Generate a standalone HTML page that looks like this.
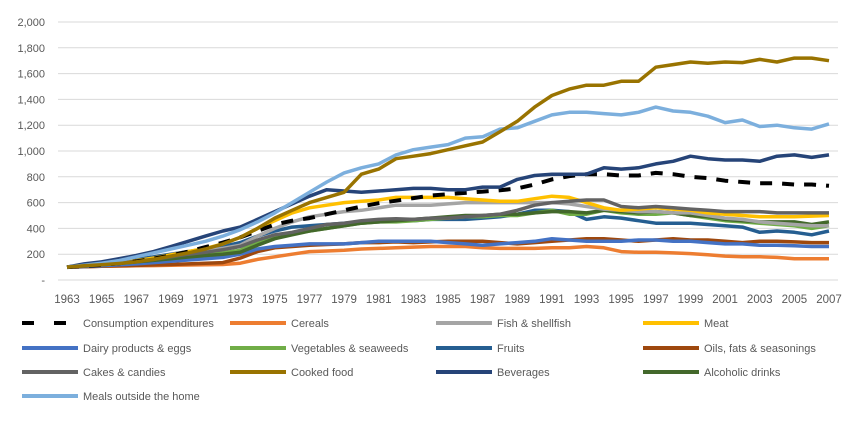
<!DOCTYPE html>
<html><head><meta charset="utf-8"><style>
body{margin:0;background:#fff;width:866px;height:421px;overflow:hidden;font-family:"Liberation Sans",sans-serif}
svg text{font-family:"Liberation Sans","Noto Sans CJK SC",sans-serif;fill:#595959}
</style></head><body>
<svg id="c" width="866" height="421"></svg>
<script>
const years=[];for(let y=1963;y<=2007;y++)years.push(y);
const yTicks=[0,200,400,600,800,1000,1200,1400,1600,1800,2000];
const consumption=[100,108,118,130,145,165,190,220,255,290,330,380,430,460,480,510,540,570,595,615,635,655,665,675,685,695,710,740,780,805,820,820,810,810,830,820,800,790,770,760,750,750,740,740,730];
const cereals=[100,103,106,108,110,112,114,116,118,120,130,160,180,200,220,225,230,240,245,250,255,260,260,260,250,245,245,245,250,250,260,250,220,215,215,210,205,195,185,180,180,175,165,165,165];
const fish=[100,110,122,135,150,168,185,205,225,245,270,340,400,450,490,510,530,540,560,580,580,580,590,600,600,600,600,600,600,590,570,550,540,530,530,520,520,500,480,470,450,440,430,420,420];
const meat=[100,110,120,135,150,170,195,220,245,280,330,400,460,520,560,580,600,610,620,640,640,640,640,630,620,610,610,630,650,640,600,560,540,550,560,550,540,520,510,500,490,490,490,495,500];
const dairy=[100,105,110,118,125,135,145,155,165,175,200,240,260,270,280,280,280,290,300,300,300,300,290,280,270,280,290,300,320,310,300,300,300,310,310,300,300,290,280,280,270,270,265,260,260];
const vegetables=[100,110,120,130,145,160,175,190,200,210,230,290,330,360,380,400,420,440,450,450,460,470,480,490,490,500,500,520,540,510,510,540,520,510,510,520,500,480,460,450,440,430,420,400,420];
const fruits=[100,112,125,140,160,180,200,220,240,260,290,340,380,410,420,430,440,450,450,460,460,470,470,470,480,490,510,540,540,530,470,490,480,460,440,440,440,430,420,410,370,380,370,350,380];
const oils=[100,103,106,110,113,117,120,125,130,135,170,220,250,260,270,275,280,290,290,295,290,295,300,300,300,290,280,290,300,310,320,320,310,300,310,320,310,310,300,290,300,300,295,290,290];
const cakes=[100,108,118,130,145,160,180,200,215,235,260,310,350,370,400,430,440,460,470,475,470,480,480,490,500,510,540,580,600,610,620,620,570,560,570,560,550,540,530,530,530,520,520,520,520];
const cooked=[100,110,118,128,140,160,185,210,240,280,330,400,480,540,600,640,680,820,860,940,960,980,1010,1040,1070,1150,1230,1340,1430,1480,1510,1510,1540,1540,1650,1670,1690,1680,1690,1685,1710,1690,1720,1720,1700];
const beverages=[100,125,140,165,190,220,260,300,340,380,410,470,530,590,650,700,690,680,690,700,710,710,700,700,720,720,780,810,820,820,820,870,860,870,900,920,960,940,930,930,920,960,970,950,970];
const alcohol=[100,108,118,128,140,152,165,178,190,200,215,270,320,350,380,400,420,440,450,460,470,480,490,500,500,510,510,520,530,530,520,540,530,520,530,520,500,490,470,460,450,450,450,430,450];
const meals=[100,115,130,150,180,210,240,270,300,340,390,450,520,600,680,760,830,870,900,970,1010,1030,1050,1100,1110,1170,1180,1230,1280,1300,1300,1290,1280,1300,1340,1310,1300,1270,1220,1240,1190,1200,1180,1170,1210];
const seriesNames=["Consumption expenditures","Cereals","Fish & shellfish","Meat","Dairy products & eggs","Vegetables & seaweeds","Fruits","Oils, fats & seasonings","Cakes & candies","Cooked food","Beverages","Alcoholic drinks","Meals outside the home"];
const seriesData=[consumption,cereals,fish,meat,dairy,vegetables,fruits,oils,cakes,cooked,beverages,alcohol,meals];
const colors=["#000","#ED7D31","#A5A5A5","#FFC000","#4472C4","#70AD47","#255E91","#9E480E","#636363","#997300","#264478","#43682B","#7CAFDD"];
const NS="http://www.w3.org/2000/svg",svg=document.getElementById('c');
const x0=67,x1=829,yb=280,yt=22;
const X=i=>x0+(x1-x0)*i/(years.length-1);
const Y=v=>yb-(yb-yt)*v/2000;
function mk(t,a){const e=document.createElementNS(NS,t);for(const k in a)e.setAttribute(k,a[k]);svg.appendChild(e);return e;}
yTicks.forEach(v=>{
 const g=mk('line',{x1:58,x2:838,y1:Y(v),y2:Y(v),stroke:'#d9d9d9','stroke-width':1});
 
 
 const t=mk('text',{x:45,y:Y(v)+4,'text-anchor':'end','font-size':11});
 t.textContent=v===0?'-':v.toLocaleString('en-US');
 
 
});
years.forEach((yr,i)=>{if(i%2)return;
 const t=mk('text',{x:X(i),y:303,'text-anchor':'middle','font-size':11.5});
 t.textContent=yr;
 
 
});
const order=[1,7,4,6,5,11,2,3,8,0,10,12,9];
order.forEach(s=>{
 const d=seriesData[s].map((v,i)=>(i?'L':'M')+X(i).toFixed(1)+','+Y(v).toFixed(1)).join('');
 const a={d:d,fill:'none',stroke:colors[s],'stroke-width':3.5,'stroke-linejoin':'round'};
 if(s===0){a['stroke-dasharray']='12,10';a['stroke-width']=4;}
 const p=mk('path',a);
 
 
});
const colX=[22,230,436,643],rowY=[323,348,372,396];
seriesNames.forEach((n,s)=>{
 const cx=colX[s%4],cy=rowY[Math.floor(s/4)];
 const la={x1:cx,x2:cx+56,y1:cy,y2:cy,stroke:colors[s],'stroke-width':4};
 if(s===0){la['stroke-dasharray']='12,20';la.x1=cx;}
 const l=mk('line',la);
 
 
 const t=mk('text',{x:cx+61,y:cy+4,'font-size':11});
 t.textContent=n;
 
 
});
</script>
</body></html>
